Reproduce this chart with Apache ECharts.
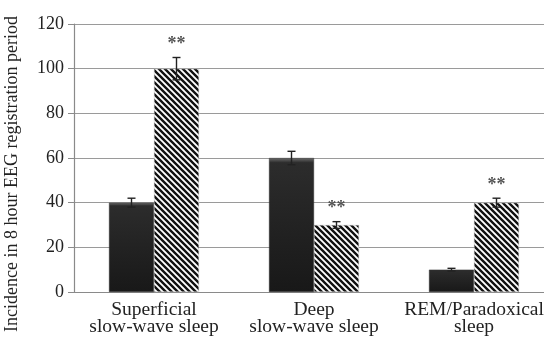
<!DOCTYPE html>
<html><head><meta charset="utf-8">
<script src="https://cdn.jsdelivr.net/npm/echarts@6/dist/echarts.min.js"></script>
<style>html,body{margin:0;padding:0;background:#fff}#c{width:544px;height:340px}</style>
</head><body><div id="c"></div>
<script>
var categories = ['Superficial\nslow-wave sleep', 'Deep\nslow-wave sleep', 'REM/Paradoxical\nsleep'];
var darkValues = [40, 60, 10];
var darkErrors = [2, 3, 0.6];
var hatchedValues = [100, 30, 40];
var hatchedErrors = [5, 1.5, 2];
var hatchedMarks = ['**', '**', '**'];
var yTicks = [0, 20, 40, 60, 80, 100, 120];
var yAxisTitle = 'Incidence in 8 hour EEG registration period';

function makeHatch() {
  var s = 6;
  var cv = document.createElement('canvas');
  cv.width = s; cv.height = s;
  var ctx = cv.getContext('2d');
  ctx.fillStyle = '#fff';
  ctx.fillRect(0, 0, s, s);
  ctx.strokeStyle = '#111';
  ctx.lineWidth = 2.4;
  ctx.beginPath();
  ctx.moveTo(-2, -2); ctx.lineTo(s + 2, s + 2);
  ctx.moveTo(-2, s - 2); ctx.lineTo(2, s + 2);
  ctx.moveTo(s - 2, -2); ctx.lineTo(s + 2, 2);
  ctx.stroke();
  return cv;
}

var BAR_W = 45;
var serif = 'Liberation Serif';

function errItems(values, errors, offsetSign, marks) {
  return values.map(function (v, i) { return [i, v, errors[i], offsetSign, marks ? marks[i] : '']; });
}

var errData = {
  d: errItems(darkValues, darkErrors, -1, null),
  h: errItems(hatchedValues, hatchedErrors, 1, hatchedMarks)
};

function renderErr(params, api) {
  var i = api.value(0), v = api.value(1), e = api.value(2), sgn = api.value(3);
  var mark = errData[params.seriesIndex === 2 ? 'd' : 'h'][params.dataIndex][4];
  var x = api.coord([i, v])[0] + sgn * BAR_W / 2;
  var yt = api.coord([i, v + e])[1];
  var yb = api.coord([i, v - e])[1];
  var cw = 4;
  var st = { stroke: '#222', lineWidth: 1.4 };
  var children = [
    { type: 'line', shape: { x1: x, y1: yt, x2: x, y2: yb }, style: st },
    { type: 'line', shape: { x1: x - cw, y1: yt, x2: x + cw, y2: yt }, style: st },
    { type: 'line', shape: { x1: x - cw, y1: yb, x2: x + cw, y2: yb }, style: st }
  ];
  if (mark) {
    children.push({ type: 'text', x: x, y: yt - 4, style: { text: mark, fill: '#555', font: 'bold 18px "' + serif + '"', align: 'center', verticalAlign: 'bottom' } });
  }
  return { type: 'group', children: children };
}

var chart = echarts.init(document.getElementById('c'), null, { renderer: 'canvas' });
chart.setOption({
  animation: false,
  backgroundColor: '#fff',
  grid: { left: 74, right: -10, top: 24, bottom: 48, outerBoundsMode: 'none', containLabel: false },
  xAxis: {
    type: 'category', data: categories,
    axisLine: { show: true, lineStyle: { color: '#8a8a8a', width: 1.2 } },
    axisTick: { show: false },
    axisLabel: { interval: 0, fontFamily: serif, fontSize: 19.5, lineHeight: 17, color: '#222', margin: 9 },
    splitLine: { show: false }
  },
  yAxis: {
    type: 'value', min: yTicks[0], max: yTicks[yTicks.length - 1], interval: 20,
    axisLine: { show: true, lineStyle: { color: '#8a8a8a', width: 1.2 } },
    axisTick: { show: true, length: 6, lineStyle: { color: '#8a8a8a' } },
    axisLabel: { fontFamily: serif, fontSize: 18, color: '#222', margin: 10 },
    splitLine: { show: true, lineStyle: { color: '#9a9a9a', width: 1 } }
  },
  graphic: [{
    type: 'text', x: 12, y: 174, rotation: Math.PI / 2,
    style: { text: yAxisTitle, font: '18px "' + serif + '"', fill: '#222', align: 'center', verticalAlign: 'middle' }
  }],
  series: [
    {
      type: 'bar', data: darkValues, barWidth: BAR_W, barGap: '0%',
      itemStyle: {
        color: { type: 'linear', x: 0, y: 0, x2: 0, y2: 1, colorStops: [
          { offset: 0, color: '#6c6c6c' }, { offset: 0.035, color: '#2c2c2c' }, { offset: 1, color: '#181818' } ] },
        borderColor: '#333', borderWidth: 0.5
      }
    },
    {
      type: 'bar', data: hatchedValues, barWidth: BAR_W,
      itemStyle: { color: { image: makeHatch(), repeat: 'repeat' }, borderColor: '#bbb', borderWidth: 0.5 }
    },
    { type: 'custom', data: errData.d, renderItem: renderErr, z: 10 },
    { type: 'custom', data: errData.h, renderItem: renderErr, z: 10 }
  ]
});
</script></body></html>
